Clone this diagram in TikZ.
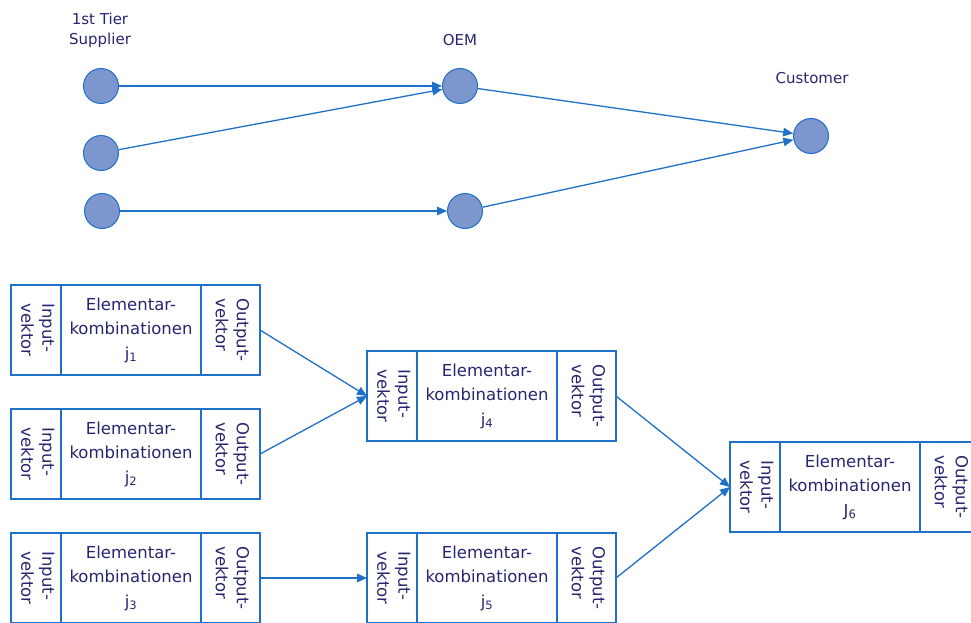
\documentclass[tikz,border=0pt]{standalone}
\usepackage{fontspec}
\setmainfont{DejaVu Sans}
\usetikzlibrary{arrows.meta}
\definecolor{bl}{RGB}{31,112,199}
\definecolor{tx}{RGB}{38,38,112}
\definecolor{cf}{RGB}{125,150,205}
\newcommand\rtxt[2]{\rotatebox{-90}{\fontsize{16.5}{21}\selectfont\begin{tabular}{@{}l@{}}#1\\#2\end{tabular}}}
\newcommand\ekbox[4]{%
  \node[cell,minimum width=50pt] (#1i) at (#2,#3) {\rtxt{Input-}{vektor}};
  \node[cell,minimum width=140pt,align=center] (#1m) at (#1i.north east) {Elementar-\\kombinationen\\#4};
  \node[cell,minimum width=59pt] (#1o) at (#1m.north east) {\rtxt{Output-}{vektor}};
}
\begin{document}
\begin{tikzpicture}[x=1pt,y=-1pt,
  cell/.style={draw=bl,line width=1.4pt,inner sep=0pt,outer sep=0pt,minimum height=90pt,text=tx,font=\fontsize{16.5}{24.5}\selectfont,anchor=north west},
  circ/.style={circle,draw=bl,fill=cf,line width=1pt,minimum size=35pt,inner sep=0pt},
  lab/.style={text=tx,font=\fontsize{15}{20}\selectfont,align=center},
  arr/.style={draw=bl,line width=1.3pt,-{Triangle[length=10pt,width=8.5pt]}}]
\useasboundingbox (0,0) rectangle (971,623);
% top network
\node[lab] (lsup) at (100,30) {1st Tier\\Supplier};
\node[lab] (loem) at (460,40) {OEM};
\node[lab] (lcus) at (812,78) {Customer};
\node[circ] (s1) at (101,86) {};
\node[circ] (s2) at (101,153) {};
\node[circ] (s3) at (102,211) {};
\node[circ] (o1) at (460,86) {};
\node[circ] (o2) at (465,211) {};
\node[circ] (c) at (811,136) {};
\draw[arr] (s1) -- (o1);
\draw[arr] (s2) -- (o1);
\draw[arr] (s3) -- (o2);
\draw[arr] (o1) -- (c);
\draw[arr] (o2) -- (c);
% boxes
\ekbox{a}{11}{285}{j\textsubscript{1}}
\ekbox{b}{11}{409}{j\textsubscript{2}}
\ekbox{d}{11}{533}{j\textsubscript{3}}
\ekbox{e}{367}{351}{j\textsubscript{4}}
\ekbox{f}{367}{533}{j\textsubscript{5}}
\ekbox{g}{730}{442}{J\textsubscript{6}}
\draw[arr] (ao.east) -- (ei.west);
\draw[arr] (bo.east) -- (ei.west);
\draw[arr] (do.east) -- (fi.west);
\draw[arr] (eo.east) -- (gi.west);
\draw[arr] (fo.east) -- (gi.west);
\end{tikzpicture}
\end{document}
